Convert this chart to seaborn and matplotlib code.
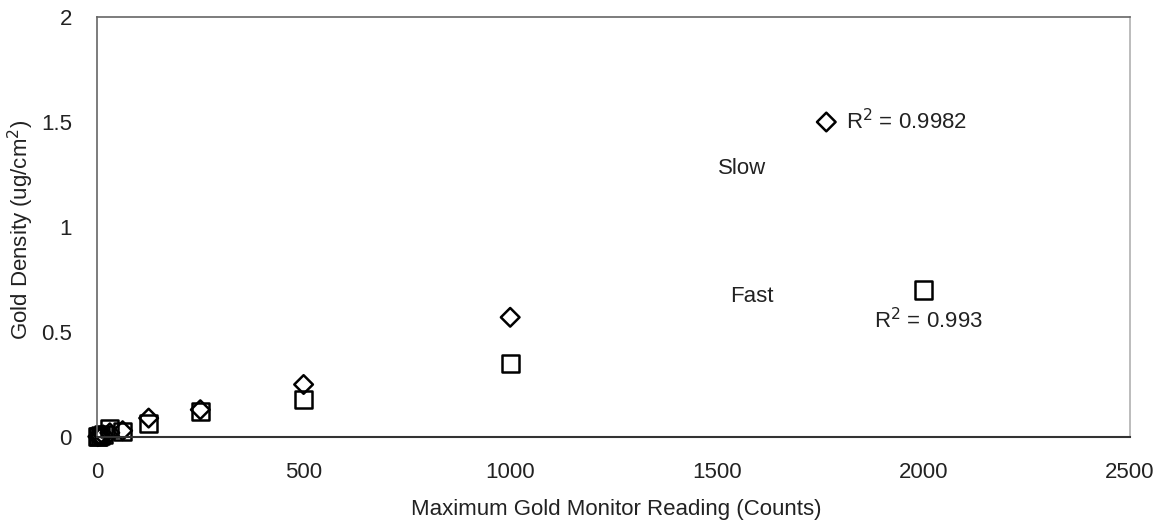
import matplotlib
matplotlib.use("Agg")
import matplotlib.pyplot as plt
import seaborn as sns
import pandas as pd

# Data
slow_x = [2, 4, 8, 15, 31, 62, 125, 250, 500, 1000, 1765]
slow_y = [0.002, 0.004, 0.006, 0.01, 0.02, 0.03, 0.09, 0.13, 0.25, 0.57, 1.5]
fast_x = [2, 4, 8, 15, 31, 62, 125, 250, 500, 1000, 2000]
fast_y = [0.002, 0.003, 0.005, 0.01, 0.04, 0.025, 0.065, 0.12, 0.18, 0.35, 0.70]

x_ticks = [0, 500, 1000, 1500, 2000, 2500]
y_ticks = [0, 0.5, 1, 1.5, 2]
y_ticklabels = ["0", "0.5", "1", "1.5", "2"]

sns.set_theme(style="white")
plt.rcParams['font.family'] = ['Liberation Sans', 'DejaVu Sans']

slow = pd.DataFrame({"x": slow_x, "y": slow_y, "series": "Slow"})
fast = pd.DataFrame({"x": fast_x, "y": fast_y, "series": "Fast"})

FS = 16
TC = "#222222"
W, H = 1167, 528

fig = plt.figure(figsize=(W / 100, H / 100), dpi=100)
ax = fig.add_axes([97/W, 1 - 437/H, (1130-97)/W, (437-17)/H])

sns.scatterplot(data=fast, x="x", y="y", marker="s", s=150, ax=ax,
                color="black", linewidth=1.8, legend=False)
sns.scatterplot(data=slow, x="x", y="y", marker="D", s=90, ax=ax,
                color="black", linewidth=1.8, legend=False)
for coll in ax.collections:
    coll.set_facecolor("none")
    coll.set_edgecolor("black")
    coll.set_clip_on(False)

ax.set_xlim(0, 2500)
ax.set_ylim(0, 2)
ax.set_xticks(x_ticks)
ax.set_xticklabels([str(t) for t in x_ticks])
ax.set_yticks(y_ticks)
ax.set_yticklabels(y_ticklabels)
ax.tick_params(axis="both", length=0, labelsize=FS, colors=TC)
ax.tick_params(axis="x", pad=18)
ax.tick_params(axis="y", pad=18)
ax.set_xlabel("")
ax.set_ylabel("")

fig.text(616/W, 1 - 510/H, "Maximum Gold Monitor Reading (Counts)", fontsize=FS,
         color=TC, ha="center", va="center")
fig.text(21/W, 1 - 230/H, "Gold Density (ug/cm$^2$)", fontsize=FS, color=TC,
         ha="center", va="center", rotation=90)

for side, sp in ax.spines.items():
    sp.set_visible(True)
    sp.set_linewidth(1.2)
    sp.set_linestyle((0, (2, 1)))
    sp.set_color("#666666")
ax.spines["right"].set_color("#b0b0b0")
ax.spines["bottom"].set_color("#333333")
ax.spines["bottom"].set_linestyle((0, (5, 1)))
ax.spines["bottom"].set_linewidth(1.5)

ax.text(1561, 1.28, "Slow", fontsize=FS, color=TC, ha="center", va="center")
ax.text(1585, 0.67, "Fast", fontsize=FS, color=TC, ha="center", va="center")
ax.text(1812, 1.50, "R$^2$ = 0.9982", fontsize=FS, color=TC, ha="left", va="center")
ax.text(2011, 0.555, "R$^2$ = 0.993", fontsize=FS, color=TC, ha="center", va="center")

fig.savefig("out.png", dpi=100, facecolor="white")
